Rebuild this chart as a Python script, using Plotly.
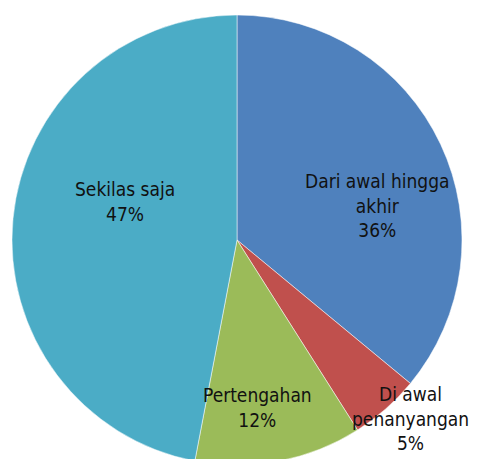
import plotly.graph_objects as go

labels = ["Dari awal hingga<br>akhir", "Di awal<br>penanyangan", "Pertengahan", "Sekilas saja"]
values = [36, 5, 12, 47]
colors = ["#4F81BD", "#C0504D", "#9BBB59", "#4BACC6"]
# label centres in screen pixel space (layout choice)
label_px = [(377, 205), (410, 418), (258, 407), (125, 201)]

OFF = 8  # page body margin
W, H = 477, 459
ml, mr, mt, mb = 4, 23, 7, 2
pw, ph = W - ml - mr, H - mt - mb

fig = go.Figure(go.Pie(
    labels=labels, values=values, sort=False, direction="clockwise", rotation=0,
    marker=dict(colors=colors, line=dict(color="white", width=0.5)),
    textinfo="none", hoverinfo="label+percent", showlegend=False,
))

total = sum(values)
for lab, v, (px, py) in zip(labels, values, label_px):
    fx, fy = px - OFF, py - OFF
    fig.add_annotation(
        x=(fx - ml) / pw, y=(H - mb - fy) / ph, xref="paper", yref="paper",
        text=f"{lab}<br>{round(100 * v / total)}%", showarrow=False,
        font=dict(family="Liberation Sans Narrow, DejaVu Sans Condensed, sans-serif", size=19, color="#111111"),
        align="center", xanchor="center", yanchor="middle",
    )

fig.update_layout(width=W, height=H, margin=dict(l=ml, r=mr, t=mt, b=mb),
                  paper_bgcolor="white", plot_bgcolor="white")
fig.write_html("out.html")
